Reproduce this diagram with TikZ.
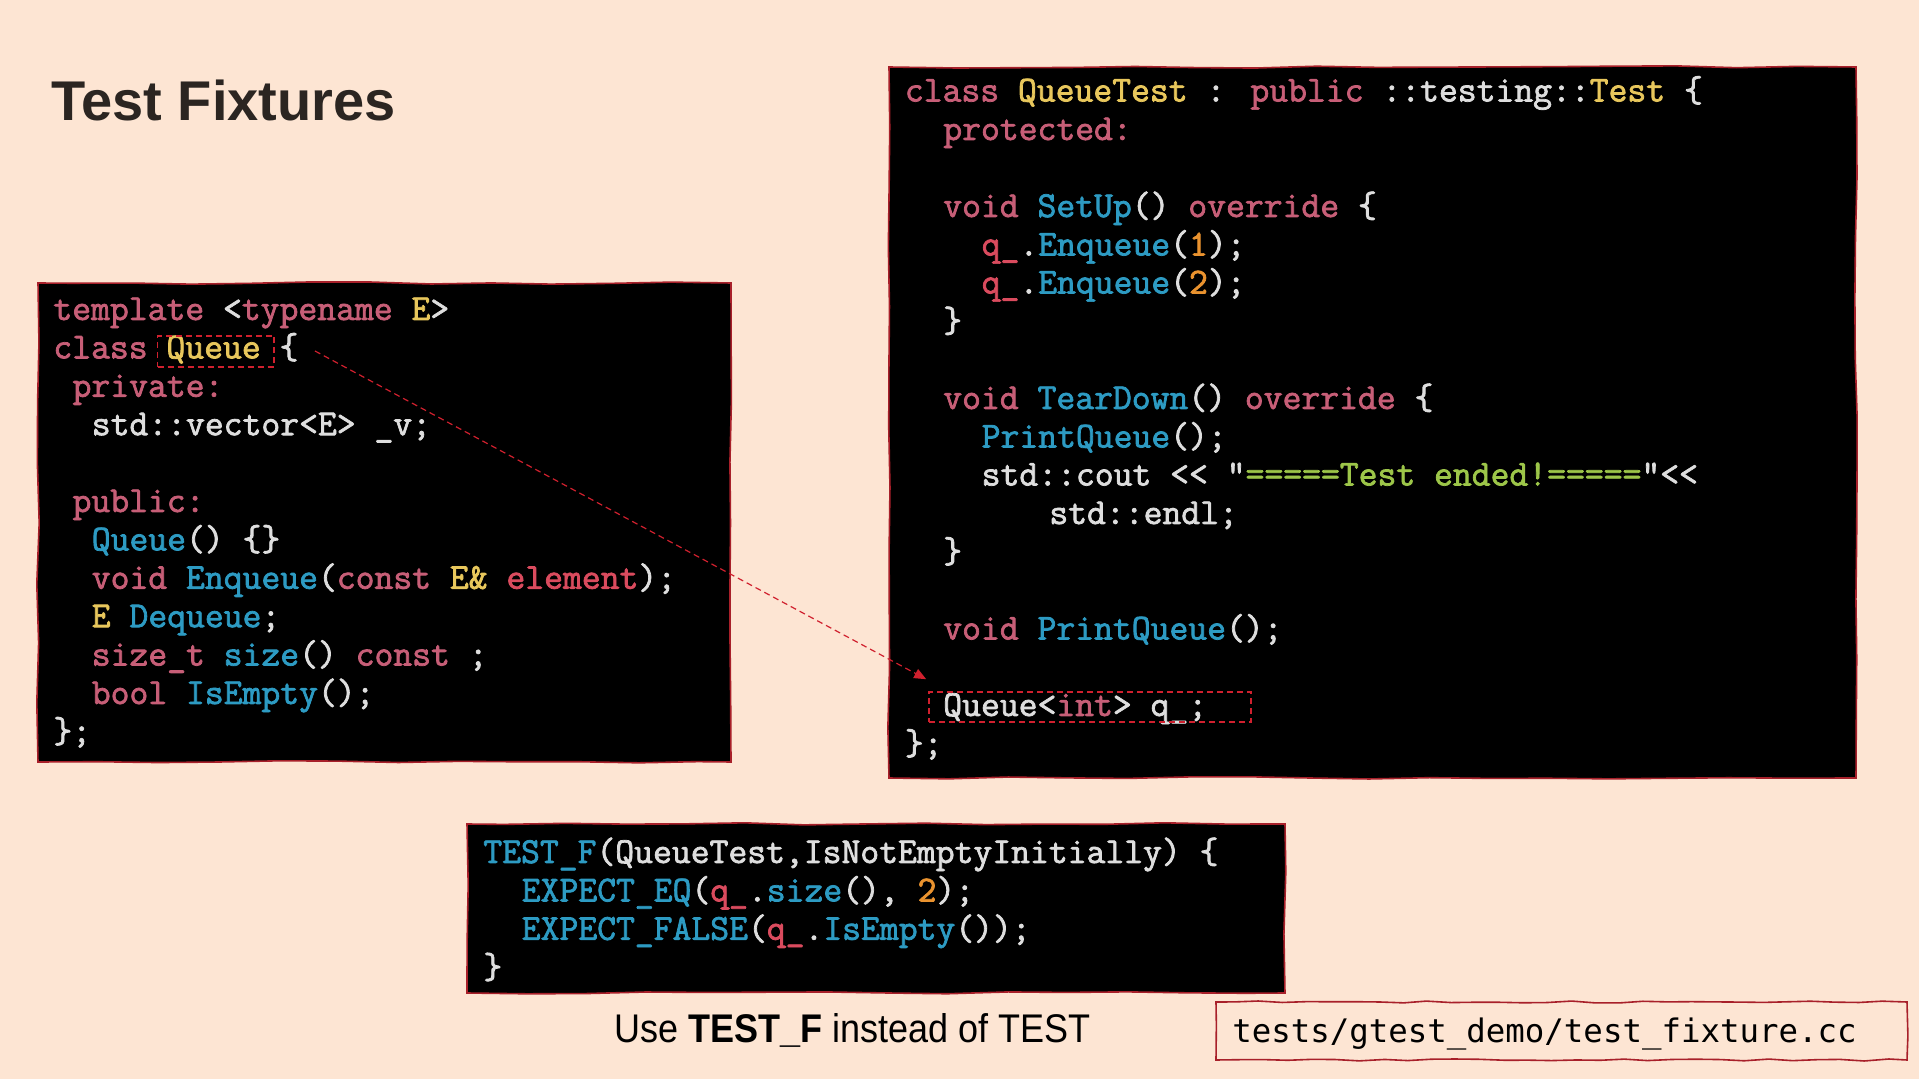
\documentclass[tikz,border=0pt]{standalone}
\usepackage{fontspec}
\usepackage{xcolor}
\usetikzlibrary{positioning, arrows.meta}
\usetikzlibrary{decorations.pathmorphing}
\setmainfont{Liberation Sans}
\newfontfamily\codefont{Latin Modern Mono}[Ligatures=TeXOff, FakeBold=2]
\newfontfamily\pathfont{DejaVu Sans Mono}
\newfontfamily\narrowfont{Liberation Sans}[FakeStretch=0.9]
\definecolor{peach}{HTML}{FDE5D3}
\definecolor{kwpink}{HTML}{C75E77}
\definecolor{fnblue}{HTML}{2D9BC3}
\definecolor{tyyellow}{HTML}{E8C75C}
\definecolor{numorange}{HTML}{EA932F}
\definecolor{varred}{HTML}{DA4B5E}
\definecolor{strgreen}{HTML}{9DC649}
\definecolor{codegray}{HTML}{DEDEDE}
\definecolor{boxred}{HTML}{A8202A}
\definecolor{dashred}{HTML}{D0202E}
\definecolor{titlegray}{HTML}{2B2521}
\newcommand{\kwc}[1]{\textcolor{kwpink}{#1}}
\newcommand{\fnc}[1]{\textcolor{fnblue}{#1}}
\newcommand{\tyc}[1]{\textcolor{tyyellow}{#1}}
\newcommand{\nmc}[1]{\textcolor{numorange}{#1}}
\newcommand{\vrc}[1]{\textcolor{varred}{#1}}
\newcommand{\stc}[1]{\textcolor{strgreen}{#1}}
\tikzstyle{codebox}=[rectangle, fill=black, draw=boxred, line width=0.8pt,
decorate, decoration={random steps, segment length=30pt, amplitude=0.6pt}]
\tikzstyle{code}=[inner sep=0pt, anchor=base west, text=codegray,
font=\codefont\fontsize{18.3}{19.2}\selectfont]
\tikzstyle{markbox}=[rectangle, draw=dashred, line width=0.8pt,
dash pattern=on 3pt off 2pt]

\begin{document}
\begin{tikzpicture}[x=0.5pt, y=-0.5pt]
\pgfmathsetseed{7}
\fill[peach] (0,0) rectangle (1919,1079);
\useasboundingbox (0,0) rectangle (1919,1079);

\node [anchor=base west, inner sep=0pt, text=titlegray,
  font=\fontsize{28}{30}\selectfont\bfseries] (title) at (51,121) {Test Fixtures};

% class Queue
\node [codebox, minimum width=346.5pt, minimum height=239.5pt] (queuebox) at (384.5,522.5) {};
\node [code] (q0) at (53,320) {\kwc{template} <\kwc{typename} \tyc{E}>};
\node [code] (q1) at (53,358.4) {\kwc{class} \tyc{Queue} \{};
\node [code] (q2) at (72.2,396.8) {\kwc{private:}};
\node [code] (q3) at (91.4,435.2) {std::vector<E> \_v;};
\node [code] (q5) at (72.2,512) {\kwc{public:}};
\node [code] (q6) at (91.4,550.4) {\fnc{Queue}() \{\}};
\node [code] (q7) at (91.4,588.8) {\kwc{void} \fnc{Enqueue}(\kwc{const} \tyc{E\&} \vrc{element});};
\node [code] (q8) at (91.4,627.2) {\tyc{E} \fnc{Dequeue};};
\node [code] (q9) at (91.4,665.6) {\kwc{size\_t} \fnc{size}() \kwc{const} ;};
\node [code] (q10) at (91.4,704) {\kwc{bool} \fnc{IsEmpty}();};
\node [code] (q11) at (53,742.4) {\};};
\node [markbox, minimum width=58.25pt, minimum height=15.5pt] (qname) at (215.75,351.5) {};

% class QueueTest
\node [codebox, minimum width=483.5pt, minimum height=355.5pt] (testbox) at (1372.5,422.5) {};
\node [code] (t0) at (904.5,101.5) {\kwc{class} \tyc{QueueTest} : \kwc{public} ::testing::\tyc{Test} \{};
\node [code] (t1) at (942.9,140) {\kwc{protected:}};
\node [code] (t3) at (942.9,217) {\kwc{void} \fnc{SetUp}() \kwc{override} \{};
\node [code] (t4) at (981.3,255.5) {\vrc{q\_}.\fnc{Enqueue}(\nmc{1});};
\node [code] (t5) at (981.3,293.5) {\vrc{q\_}.\fnc{Enqueue}(\nmc{2});};
\node [code] (t6) at (942.9,332) {\}};
\node [code] (t8) at (942.9,409) {\kwc{void} \fnc{TearDown}() \kwc{override} \{};
\node [code] (t9) at (981.3,447.5) {\fnc{PrintQueue}();};
\node [code] (t10) at (981.3,485.5) {std::cout << “\stc{=====Test ended!=====}"<<};
\node [code] (t11) at (1049,524) {std::endl;};
\node [code] (t12) at (942.9,562.5) {\}};
\node [code] (t14) at (942.9,639.5) {\kwc{void} \fnc{PrintQueue}();};
\node [code] (t16) at (942.9,716) {Queue<\kwc{int}> q\_;};
\node [code] (t17) at (904.5,754.5) {\};};
\node [markbox, minimum width=161pt, minimum height=15pt] (qmember) at (1090,707) {};

\coordinate (qlink) at (315,351);
\draw [dashred, line width=0.6pt, dash pattern=on 3pt off 2pt,
  -{Triangle[length=6pt,width=5pt]}] (qlink) -- ([xshift=-1pt,yshift=6pt]qmember.north west);

% TEST_F
\node [codebox, minimum width=409pt, minimum height=84.5pt] (fixturebox) at (876,908.5) {};
\node [code] (f0) at (483,863) {\fnc{TEST\_F}(QueueTest,IsNotEmptyInitially) \{};
\node [code] (f1) at (521.4,901.4) {\fnc{EXPECT\_EQ}(\vrc{q\_}.\fnc{size}(), \nmc{2});};
\node [code] (f2) at (521.4,939.8) {\fnc{EXPECT\_FALSE}(\vrc{q\_}.\fnc{IsEmpty}());};
\node [code] (f3) at (483,978.2) {\}};

\node [anchor=base west, inner sep=0pt, text=black,
  font=\narrowfont\fontsize{20}{22}\selectfont] (usef) at (614,1043) {Use \textbf{TEST\_F} instead of TEST};

\node [rectangle, fill=peach, draw=boxred, line width=0.8pt, decorate,
  decoration={random steps, segment length=12pt, amplitude=0.5pt},
  minimum width=345.5pt, minimum height=29pt] (filebox) at (1561.5,1031) {};
\node [anchor=base west, inner sep=0pt, text=black,
  font=\pathfont\fontsize{16.2}{18}\selectfont] (fname) at (1232,1043) {tests/gtest\_demo/test\_fixture.cc};

\end{tikzpicture}
\end{document}
